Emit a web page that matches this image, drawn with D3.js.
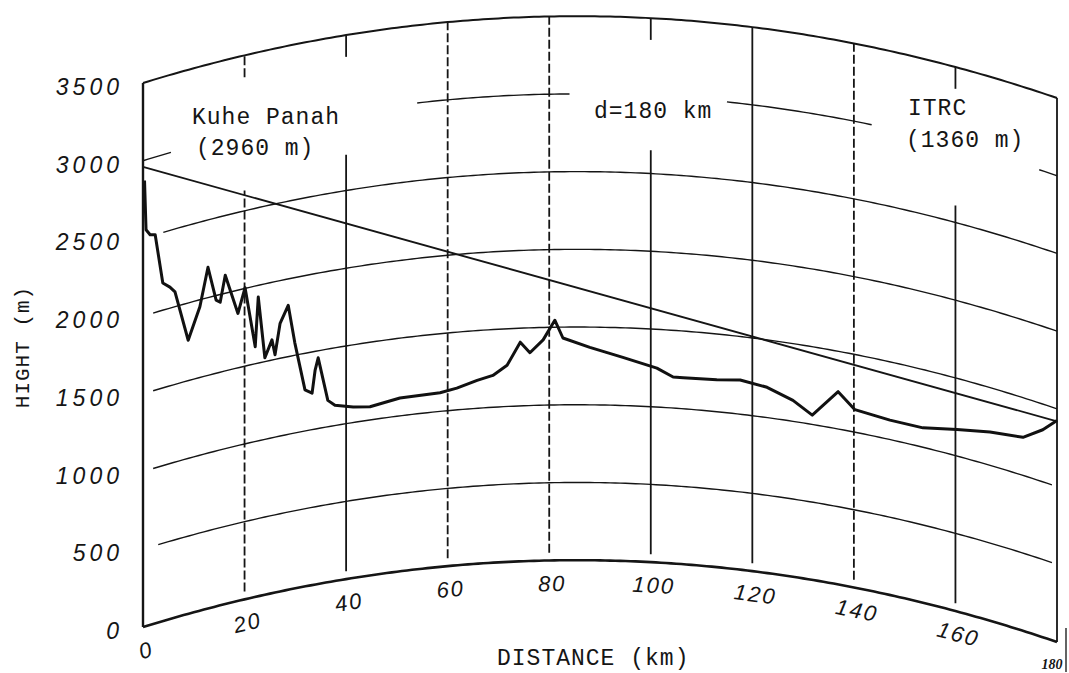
<!DOCTYPE html>
<html>
<head>
<meta charset="utf-8">
<title>Path profile Kuhe Panah - ITRC</title>
<style>
body { margin: 0; background: #fff; }
svg { display: block; }
.grid { fill: none; stroke: #151515; }
.num { font-family: "Liberation Sans", sans-serif; font-style: italic; fill: #151515; }
.type { font-family: "Liberation Mono", monospace; fill: #151515; }
</style>
</head>
<body>
<script src="https://cdn.jsdelivr.net/npm/d3@7/dist/d3.min.js"></script>
<script>
// values
var distTicks = [0, 20, 40, 60, 80, 100, 120, 140, 160, 180];
var heightTicks = [0, 500, 1000, 1500, 2000, 2500, 3000, 3500];

var profileDist = [0.3, 0.6, 1.4, 2.4, 3.9, 5.3, 6.3, 8.9, 11.2, 12.8, 14.4, 15.2, 16.2, 18.7,
  20.1, 22.1, 22.7, 24.0, 25.4, 26.0, 27.0, 28.6, 29.9, 31.9, 33.3, 33.9, 34.5, 36.4, 37.8,
  41.4, 44.7, 50.6, 58.5, 61.8, 65.8, 68.9, 71.7, 74.3, 76.2, 78.8, 81.1, 82.7, 88.0, 94.5,
  101.2, 104.4, 106.4, 113.0, 117.6, 122.9, 128.0, 131.8, 136.9, 140.2, 147.1, 153.6, 160.3,
  166.8, 173.3, 177.2, 180];
var profileHeight = [2870, 2550, 2510, 2500, 2175, 2135, 2095, 1760, 1955, 2195, 1970, 1950, 2115, 1850,
  2005, 1610, 1925, 1525, 1630, 1530, 1725, 1830, 1580, 1265, 1235, 1380, 1455, 1170, 1130,
  1100, 1085, 1115, 1120, 1140, 1180, 1205, 1265, 1410, 1340, 1420, 1545, 1430, 1370, 1310,
  1250, 1200, 1200, 1205, 1220, 1195, 1135, 1060, 1240, 1145, 1125, 1125, 1170,
  1215, 1245, 1335, 1425];

var linkDist = [0, 180];
var linkHeight = [2960, 1420];

var W = 1069, H = 673;

var x = d3.scaleLinear().domain([0, 180]).range([143, 1057]);
var y = d3.scaleLinear().domain([0, 3500]).range([627, 83]);
// the scan is a little skewed: right side sits lower
var skew = d3.scaleLinear().domain([0, 180]).range([0, 15]);

// earth bulge in metres for a 180 km hop, k = 4/3
function bulge(d) { return d * (180 - d) / (12.74 * 4 / 3); }
function py(d, h) { return y(h + bulge(d)) + skew(d); }

var svg = d3.select("body").append("svg")
    .attr("width", W)
    .attr("height", H);

var line = d3.line()
    .x(function(p) { return x(p[0]); })
    .y(function(p) { return py(p[0], p[1]); });

function arcPts(h, d0, d1) {
  var pts = d3.range(d0, d1, 1).map(function(d) { return [d, h]; });
  pts.push([d1, h]);
  return pts;
}

// curved height lines (some are broken where the labels sit)
var arcSpans = {
  0: [[0, 180]], 500: [[3, 179]], 1000: [[2, 179]], 1500: [[2, 180]],
  2000: [[2, 180]], 2500: [[4, 180]],
  3000: [[0, 5.5], [54, 84], [115, 143.5], [176.5, 180]],
  3500: [[0, 180]]
};

heightTicks.forEach(function(h) {
  arcSpans[h].forEach(function(s) {
    svg.append("path")
        .attr("class", "grid")
        .attr("d", line(arcPts(h, s[0], s[1])))
        .attr("stroke-width", h === 0 ? 2.6 : (h === 3500 ? 2 : 1.4));
  });
});

// vertical distance lines
var gapTop = { 20: 2630, 40: 2730, 100: 2650, 160: 2610 };
var dashed = [20, 60, 80, 140];

distTicks.forEach(function(d) {
  var bottom = (d === 0 || d === 180) ? 0 : 50;
  var segs = gapTop[d] ? [[bottom, gapTop[d]], [3360, 3500]] : [[bottom, 3500]];
  segs.forEach(function(s) {
    svg.append("line")
        .attr("class", "grid")
        .attr("x1", x(d)).attr("x2", x(d))
        .attr("y1", py(d, s[0])).attr("y2", py(d, s[1]))
        .attr("stroke-width", d === 0 ? 2.4 : 1.8)
        .attr("stroke-dasharray", dashed.indexOf(d) >= 0 ? "9,3" : null);
  });
});

// line of sight
svg.append("line")
    .attr("class", "grid")
    .attr("x1", x(linkDist[0])).attr("y1", py(linkDist[0], linkHeight[0]))
    .attr("x2", x(linkDist[1])).attr("y2", py(linkDist[1], linkHeight[1]))
    .attr("stroke-width", 1.9);

// terrain profile
var profile = profileDist.map(function(d, i) { return [d, profileHeight[i]]; });
svg.append("path")
    .attr("d", line(profile))
    .attr("fill", "none")
    .attr("stroke", "#111")
    .attr("stroke-width", 3)
    .attr("stroke-linejoin", "round");

// height labels
svg.selectAll(".ylab")
    .data(heightTicks)
  .enter().append("text")
    .attr("class", "num")
    .attr("x", 123)
    .attr("y", function(h) { return y(h) + 4; })
    .attr("dy", ".35em")
    .style("text-anchor", "end")
    .style("font-size", "23px")
    .style("letter-spacing", "4px")
    .text(function(h) { return h; });

// distance labels follow the bottom curve
svg.selectAll(".xlab")
    .data(distTicks.slice(0, 9))
  .enter().append("text")
    .attr("class", "num")
    .attr("transform", function(d) {
      var a = Math.atan2(py(d + 1, 0) - py(d - 1, 0), x(d + 1) - x(d - 1)) * 180 / Math.PI;
      return "translate(" + (x(d) + 3) + "," + (py(d, 0) + 23) + ") rotate(" + a + ")";
    })
    .attr("dy", ".35em")
    .style("text-anchor", "middle")
    .style("font-size", "22px")
    .style("letter-spacing", "2px")
    .text(function(d) { return d; });

svg.append("text")
    .attr("x", 1052).attr("y", 669)
    .style("text-anchor", "middle")
    .style("font-family", "'Liberation Serif', serif")
    .style("font-weight", "bold")
    .style("font-style", "italic")
    .style("font-size", "14px")
    .attr("fill", "#151515")
    .text(distTicks[9]);

svg.append("line")
    .attr("x1", 1066).attr("x2", 1066)
    .attr("y1", 628).attr("y2", 672)
    .attr("stroke", "#222")
    .attr("stroke-width", 1.4);

// typed annotations
function typed(str, tx, ty) {
  svg.append("text")
      .attr("class", "type")
      .attr("x", tx).attr("y", ty)
      .attr("dy", ".35em")
      .style("font-size", "23px")
      .style("letter-spacing", "1px")
      .text(str);
}
typed("Kuhe Panah", 192, 116);
typed("(2960 m)", 196, 147);
typed("d=180 km", 594, 110);
typed("ITRC", 908, 107);
typed("(1360 m)", 906, 139);
typed("DISTANCE (km)", 497, 657);

svg.append("text")
    .attr("class", "type")
    .attr("transform", "translate(22,347) rotate(-90)")
    .attr("dy", ".35em")
    .style("text-anchor", "middle")
    .style("font-size", "21px")
    .style("letter-spacing", "1px")
    .text("HIGHT (m)");
</script>
</body>
</html>
